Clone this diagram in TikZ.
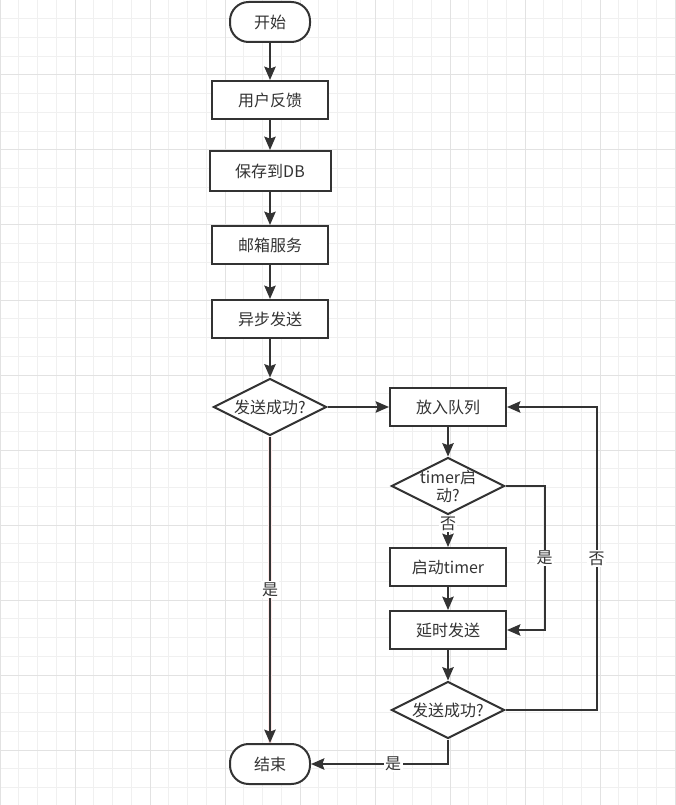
\documentclass[tikz,border=0pt]{standalone}
\usepackage{fontspec}
\setmainfont{Noto Sans CJK SC}
\usetikzlibrary{arrows.meta,shapes.geometric}

\definecolor{ink}{RGB}{51,51,51}
\definecolor{gridminor}{RGB}{240,240,240}
\definecolor{gridmajor}{RGB}{226,226,226}

\tikzset{every picture/.style={line width=0.75pt}}
\tikzset{
  box/.style={draw=ink, line width=1.5pt, fill=white, text=ink,
    minimum width=87pt, minimum height=28.5pt, inner sep=0pt,
    font=\fontsize{12pt}{14pt}\selectfont},
  term/.style={box, rounded corners=14pt, minimum width=60pt, minimum height=30pt},
  decide/.style={box, diamond, aspect=2, minimum width=84.75pt, minimum height=42.75pt},
  flow/.style={draw=ink, line width=1.5pt, -{Stealth[length=10pt, width=8.5pt, inset=1.5pt]}},
  lbl/.style={fill=white, text=ink, inner sep=1pt, font=\fontsize{12pt}{14pt}\selectfont}
}

\begin{document}
\begin{tikzpicture}[x=0.75pt, y=0.75pt, yscale=-1, xscale=1]

    % Background grid
    \fill [white] (0,0) rectangle (675,805);
    \useasboundingbox (0,0) rectangle (675,805);
    \draw [gridminor, line width=0.75pt, step=14.0625pt] (0,0) grid (675,805);
    \draw [gridmajor, line width=0.75pt, step=56.25pt] (0,0) grid (675,805);

    % Main column
    \node [term] (start) at (270, 22) {开始};
    \node [box]  (feedback) at (270,100) {用户反馈};
    \node [box, minimum width=90.75pt, minimum height=30pt] (savedb) at (270,171) {保存到DB};
    \node [box]  (mailsvc) at (270,245) {邮箱服务};
    \node [box]  (async) at (270,319) {异步发送};
    \node [decide] (sendok) at (270,407) {发送成功?};
    \node [term] (finish) at (270,764) {结束};

    % Retry column
    \node [box]  (queue) at (448,407) {放入队列};
    \node [decide, inner sep=-6pt, align=center, font=\fontsize{12pt}{13.5pt}\selectfont] (timeron) at (448,486) {timer启\\动?};
    \node [box]  (starttimer) at (448,567) {启动timer};
    \node [box]  (delay) at (448,630) {延时发送};
    \node [decide] (resendok) at (448,710) {发送成功?};

    % Line Start - Feedback - ... - Decision
    \draw [flow] (start) -- (feedback);
    \draw [flow] (feedback) -- (savedb);
    \draw [flow] (savedb) -- (mailsvc);
    \draw [flow] (mailsvc) -- (async);
    \draw [flow] (async) -- (sendok);

    % Line Decision - Queue / Finish
    \draw [flow] (sendok.east) -- (queue.west);
    \draw [flow, preaction={draw, pink!35, line width=3.5pt, -}] (sendok.south) -- node [lbl, pos=0.5] {是} (finish.north);

    % Line Queue - Timer check
    \draw [flow] (queue.south) -- (timeron.north);
    \draw [flow] (timeron.south) -- node [lbl, pos=0.27] {否} (starttimer.north);
    \draw [flow] (timeron.east) -- ++(39,0) |- node [lbl, pos=0.25] {是} (delay.east);

    % Line Timer - Delay - Resend check
    \draw [flow] (starttimer) -- (delay);
    \draw [flow] (delay.south) -- (resendok.north);

    % Line Resend - Queue / Finish
    \draw [flow] (resendok.east) -- ++(91,0) |- node [lbl, pos=0.25] {否} (queue.east);
    \draw [flow] (resendok.south) |- node [lbl, pos=0.7] {是} (finish.east);

\end{tikzpicture}
\end{document}
